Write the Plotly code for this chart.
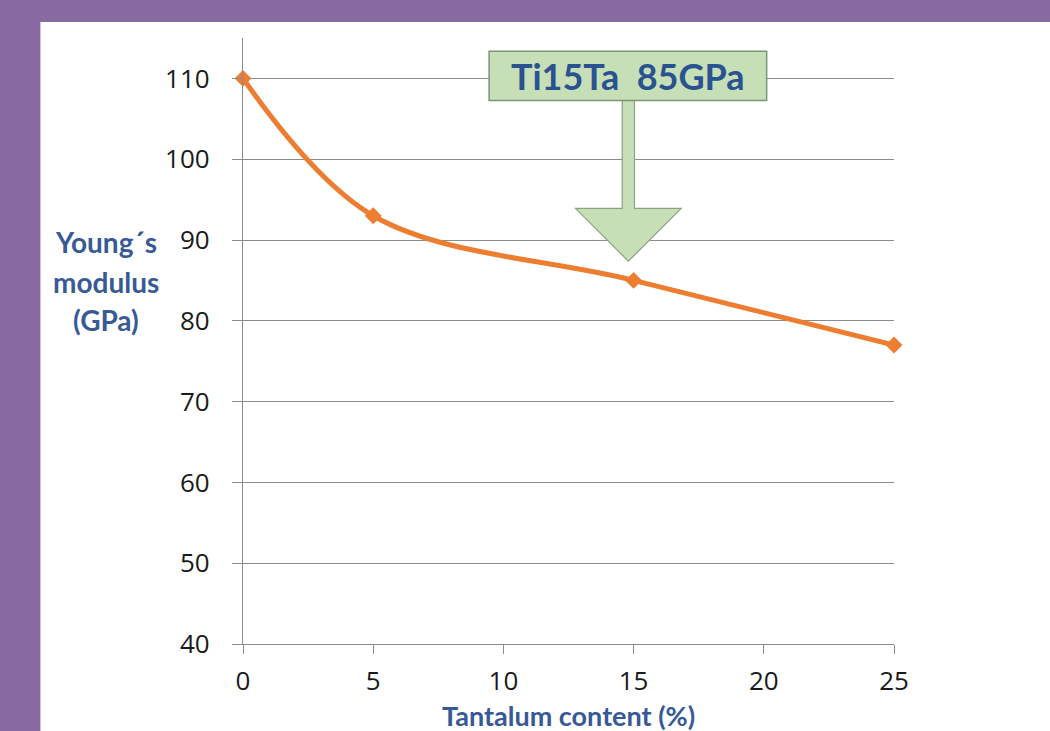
import plotly.graph_objects as go

# Data
tantalum = [0, 5, 15, 25]
modulus = [110, 93, 85, 77]
x_ticks = [0, 5, 10, 15, 20, 25]
y_ticks = [40, 50, 60, 70, 80, 90, 100, 110]
callout_text = "Ti15Ta  85GPa"
x_title = "Tantalum content (%)"
y_title_lines = ["Young´s", "modulus", "(GPa)"]

ORANGE = "#ED7D31"
BLUE = "#375A96"
GRID = "#8C8C8C"
PURPLE = "#876AA2"
FONT = "Lato"
TICKFONT = "Open Sans"

fig = go.Figure()
fig.add_trace(go.Scatter(
    x=tantalum, y=modulus, mode="lines+markers",
    line=dict(color=ORANGE, width=5, shape="spline", smoothing=1.0),
    marker=dict(symbol="diamond", size=13, color=ORANGE),
    cliponaxis=False, hoverinfo="x+y", showlegend=False,
))

shapes = []
# white panel over purple background
shapes.append(dict(type="rect", xref="paper", yref="paper",
                   x0=-0.3112, x1=1.3, y0=-0.3, y1=1.0264,
                   fillcolor="white", line=dict(width=0), layer="below"))

# callout box and arrow (data coordinates)
arrow_x = 14.8
shaft_half = 0.235
head_half = 2.03
shaft_top = 107.28
shaft_bottom = 93.92
tip_y = 87.37
arrow_path = (
    f"M {arrow_x - shaft_half} {shaft_top} "
    f"L {arrow_x - shaft_half} {shaft_bottom} "
    f"L {arrow_x - head_half} {shaft_bottom} "
    f"L {arrow_x} {tip_y} "
    f"L {arrow_x + head_half} {shaft_bottom} "
    f"L {arrow_x + shaft_half} {shaft_bottom} "
    f"L {arrow_x + shaft_half} {shaft_top} Z"
)
shapes.append(dict(type="path", xref="x", yref="y", path=arrow_path,
                   fillcolor="#C6DFB6", line=dict(color="#8DA383", width=1.2),
                   layer="above"))
shapes.append(dict(type="rect", xref="x", yref="y",
                   x0=9.45, x1=20.11, y0=107.28, y1=113.37,
                   fillcolor="#C6DFB6", line=dict(color="#7E9377", width=1.5),
                   layer="above"))

annotations = [
    dict(x=(9.45 + 20.11) / 2, y=(107.28 + 113.37) / 2, xref="x", yref="y",
         text=f"<b>{callout_text}</b>", showarrow=False,
         font=dict(family=FONT, size=36, color="#2A5290"),
         xanchor="center", yanchor="middle"),
    dict(x=0.5, y=-0.1172, xref="paper", yref="paper",
         text=f"<b>{x_title}</b>", showarrow=False,
         font=dict(family=FONT, size=27, color=BLUE),
         xanchor="center", yanchor="middle", borderpad=0),
]
for line, yp in zip(y_title_lines, [0.6634, 0.5974, 0.5347]):
    annotations.append(dict(x=-0.2099, y=yp, xref="paper", yref="paper",
                            text=f"<b>{line}</b>", showarrow=False,
                            font=dict(family=FONT, size=28, color=BLUE),
                            xanchor="center", yanchor="middle"))

fig.update_layout(
    width=1050, height=731,
    margin=dict(l=242.7, r=156, t=38, b=87, pad=0),
    paper_bgcolor=PURPLE, plot_bgcolor="rgba(0,0,0,0)",
    font=dict(family=FONT, color="#1A1A1A"),
    shapes=shapes, annotations=annotations,
    xaxis=dict(range=[0, 25], tickvals=x_ticks, ticks="outside", ticklen=9,
               tickcolor=GRID, tickwidth=1, showgrid=False, zeroline=False,
               showline=True, linecolor=GRID, linewidth=1.2,
               tickfont=dict(family=TICKFONT, size=26, color="#1A1A1A"),
               ticklabelstandoff=5, fixedrange=True),
    yaxis=dict(range=[40, 115], tickvals=y_ticks, ticks="outside", ticklen=10,
               tickcolor=GRID, tickwidth=1, showgrid=True, gridcolor=GRID,
               gridwidth=1, zeroline=False, showline=True, linecolor=GRID,
               linewidth=1.2,
               tickfont=dict(family=TICKFONT, size=26, color="#1A1A1A"),
               ticklabelstandoff=17, fixedrange=True),
)

fig.write_html("out.html")
